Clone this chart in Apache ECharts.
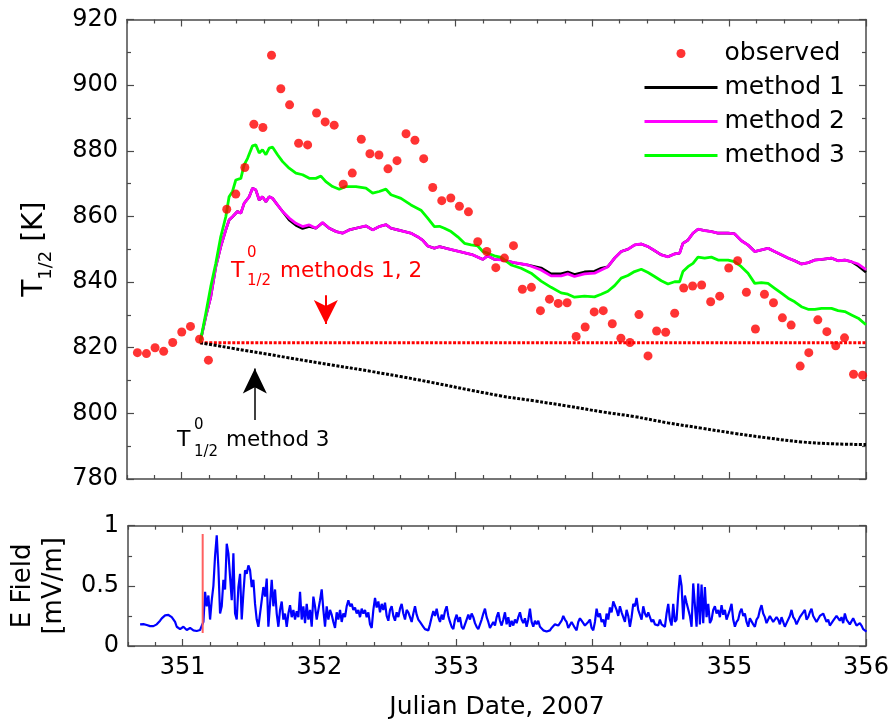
<!DOCTYPE html>
<html><head><meta charset="utf-8">
<script src="https://cdn.jsdelivr.net/npm/echarts@6/dist/echarts.min.js"></script>
<style>html,body{margin:0;padding:0;background:#fff}#c{width:893px;height:724px}</style>
</head><body><div id="c"></div><script>
// ---------- data ----------
const xMajorTicks = [351, 352, 353, 354, 355, 356];
const yTopTicks = [780, 800, 820, 840, 860, 880, 900, 920];
const yBotTicks = [0, 0.5, 1];

const obsDates = [350.676,350.742,350.805,350.868,350.934,351.000,351.064,351.130,351.195,
351.329,351.395,351.461,351.527,351.593,351.656,351.724,351.788,351.854,351.920,351.985,
352.048,352.114,352.180,352.246,352.312,352.375,352.441,352.507,352.573,352.639,352.704,
352.768,352.834,352.900,352.966,353.029,353.095,353.163,353.229,353.295,353.358,353.424,
353.489,353.555,353.621,353.687,353.751,353.816,353.882,353.948,354.014,354.080,354.146,
354.209,354.275,354.341,354.407,354.470,354.536,354.602,354.668,354.733,354.799,354.865,
354.931,354.997,355.062,355.126,355.192,355.258,355.324,355.389,355.453,355.519,355.582,
355.648,355.714,355.779,355.843,355.909,355.975];
const obsValues = [818.5,818.2,820.0,818.9,821.6,824.8,826.5,822.6,816.2,
862.2,866.8,874.9,888.1,887.1,909.1,898.9,894.0,882.3,881.8,891.5,
888.8,887.8,869.8,873.2,883.5,879.1,878.7,874.5,877.0,885.2,883.2,
877.6,868.8,864.8,865.6,863.1,861.4,852.3,849.3,844.4,847.3,851.1,
837.8,838.4,831.3,834.8,833.5,833.7,823.4,826.3,830.9,831.3,827.3,
822.9,821.6,830.1,817.5,825.1,824.7,830.5,838.2,838.8,839.1,834.0,
835.7,844.3,846.5,836.9,825.7,836.3,833.7,829.1,826.9,814.4,818.5,
828.5,824.9,820.6,823.0,811.9,811.6];

const m12Dates = [351.134,351.176,351.212,351.249,351.285,351.322,351.346,351.371,351.407,351.432,
351.456,351.493,351.517,351.541,351.566,351.590,351.615,351.639,351.664,351.700,351.737,351.785,
351.834,351.883,351.932,351.980,352.029,352.078,352.127,352.176,352.224,352.273,352.346,352.395,
352.443,352.492,352.529,352.578,352.627,352.675,352.724,352.760,352.797,352.846,352.883,352.931,
352.980,353.029,353.078,353.126,353.163,353.200,353.236,353.285,353.334,353.431,353.529,353.626,
353.699,353.772,353.821,353.870,353.943,354.016,354.065,354.114,354.163,354.211,354.260,354.309,
354.358,354.407,354.455,354.504,354.553,354.602,354.638,354.662,354.699,354.736,354.772,354.821,
354.870,354.919,354.992,355.040,355.089,355.138,355.187,355.235,355.284,355.333,355.382,355.431,
355.479,355.528,355.577,355.626,355.675,355.748,355.796,355.845,355.894,355.943,356.000];
const method2Values = [821.5,829.5,835.5,844.7,850.8,855.9,858.9,859.9,861.5,861.0,
864.0,866.0,868.6,868.1,865.0,866.0,864.5,866.0,865.5,863.5,861.5,859.5,
857.9,856.9,857.4,856.4,858.1,856.4,855.4,854.9,855.9,856.4,857.1,855.9,
856.9,857.5,856.4,855.9,855.4,854.9,853.8,852.8,851.0,850.3,850.8,850.3,
849.8,849.3,848.8,848.3,847.6,846.9,848.0,846.9,846.8,845.9,845.2,843.7,
841.9,841.9,842.5,841.7,842.5,842.7,843.7,844.7,847.3,849.3,850.0,851.3,
851.6,850.8,849.6,848.3,847.7,848.6,848.8,851.8,852.8,854.9,856.1,855.7,
855.4,854.9,854.9,854.7,852.6,851.3,849.3,849.8,850.3,849.3,848.3,847.3,
846.5,845.5,845.9,846.7,846.9,847.3,846.5,846.7,846.2,845.5,843.8];
const method1Values = [821.5,829.5,835.5,844.7,850.8,855.9,858.9,859.9,861.5,861.0,
864.0,866.0,868.6,868.1,865.0,866.0,864.5,866.0,865.5,863.5,861.5,858.9,
857.3,856.3,856.9,856.4,858.1,856.4,855.4,854.9,855.9,856.4,857.1,855.9,
856.9,857.5,856.4,855.9,855.4,854.9,853.8,852.8,851.0,850.3,850.8,850.3,
849.8,849.3,848.8,848.3,847.6,846.9,848.0,846.9,846.8,845.9,845.2,844.3,
842.5,842.5,843.1,842.3,843.1,843.3,844.2,844.7,847.3,849.3,850.0,851.3,
851.6,850.8,849.6,848.3,847.7,848.6,848.8,851.8,852.8,854.9,856.1,855.7,
855.4,854.9,854.9,854.7,852.6,851.3,849.3,849.8,850.3,849.3,848.3,847.3,
846.5,845.5,845.9,846.7,846.9,847.3,846.5,846.7,846.2,844.9,843.0];

const m3Dates = [351.134,351.176,351.212,351.249,351.285,351.322,351.346,351.371,351.395,351.432,
351.456,351.481,351.517,351.541,351.566,351.590,351.615,351.639,351.664,351.700,351.737,351.785,
351.834,351.883,351.932,351.980,352.017,352.053,352.102,352.151,352.200,352.273,352.346,352.395,
352.443,352.492,352.529,352.602,352.675,352.748,352.797,352.846,352.883,352.919,352.968,353.017,
353.066,353.114,353.163,353.200,353.236,353.285,353.334,353.407,353.480,353.553,353.626,353.699,
353.772,353.821,353.870,353.943,354.016,354.065,354.114,354.163,354.211,354.260,354.309,354.358,
354.407,354.455,354.504,354.553,354.602,354.638,354.662,354.699,354.736,354.772,354.821,354.870,
354.919,354.992,355.040,355.089,355.138,355.187,355.235,355.284,355.333,355.382,355.431,355.479,
355.528,355.577,355.626,355.675,355.748,355.796,355.845,355.894,355.943,356.000];
const method3Values = [821.5,830.5,838.6,845.7,853.8,859.9,866.0,867.6,871.1,871.6,
875.7,877.7,881.5,881.8,879.3,880.3,878.8,880.8,881.1,878.8,876.7,874.7,
873.2,872.7,871.6,871.6,872.3,870.6,869.1,868.3,869.1,869.1,868.6,867.1,
867.6,868.3,866.6,865.5,863.5,861.9,859.5,856.9,857.0,856.4,855.4,853.8,
851.8,851.3,851.0,849.3,848.8,848.0,847.5,845.2,844.2,842.7,840.3,838.4,
836.7,836.3,835.4,835.7,835.5,836.3,837.2,838.9,841.2,842.0,843.2,843.9,
842.9,841.7,840.4,839.4,840.1,840.1,843.2,844.7,845.7,847.6,847.3,847.6,
846.7,846.7,846.2,844.7,842.7,839.6,839.8,839.6,838.1,836.6,835.1,834.0,
832.5,831.7,831.7,832.0,832.0,831.3,831.0,830.0,829.0,827.0];

const t0m12Dates = [351.134, 356.0];
const t0m12Values = [821.5, 821.5];
const t0m3Dates = [351.134, 351.871, 352.600, 353.334, 353.578, 353.821, 354.065, 354.309, 354.553, 354.797, 355.040, 355.284, 355.528, 355.772, 356.0];
const t0m3Values = [821.5, 816.3, 811.2, 805.3, 803.8, 802.2, 800.5, 799.0, 797.1, 795.5, 793.9, 792.5, 791.3, 790.7, 790.5];

// E field, sampled on a regular time grid
const eStart = 350.688, eStep = 0.012192;
const eField = [
0.18,0.18,0.182,0.183,0.175,0.17,0.165,0.16,0.165,0.175,0.18,0.19,0.21,0.23,0.244,0.255,0.26,0.258,0.25,0.24,
0.23,0.2,0.16,0.145,0.14,0.15,0.16,0.145,0.133,0.14,0.15,0.147,0.13,0.127,0.125,0.128,0.133,0.14,
0.2,0.45,0.33,0.42,0.22,0.38,0.5,0.75,0.92,0.65,0.27,0.33,0.55,0.47,0.85,0.77,0.78,0.38,0.77,0.27,0.22,0.49,
0.60,0.22,0.44,0.63,0.60,0.67,0.63,0.49,0.55,0.35,0.22,0.16,0.27,0.38,0.49,0.41,0.56,0.16,0.35,0.55,
0.33,0.47,0.27,0.16,0.30,0.37,0.22,0.27,0.16,0.27,0.34,0.24,0.30,0.22,0.29,0.24,0.45,0.22,0.33,0.19,
0.35,0.22,0.30,0.16,0.41,0.33,0.22,
0.30,0.38,0.47,0.30,0.16,0.33,0.22,0.30,0.26,0.20,0.15,0.28,0.22,0.30,0.20,0.27,0.24,0.33,0.38,0.33,
0.35,0.30,0.32,0.27,0.30,0.24,0.31,0.27,0.30,0.24,0.28,0.18,0.15,0.30,0.40,0.32,0.37,0.28,0.35,0.30,
0.36,0.25,0.21,0.30,0.33,0.25,0.21,0.28,0.24,0.31,0.35,0.27,0.22,0.30,0.28,0.24,0.20,0.27,0.33,0.26,
0.22,0.20,0.19,0.16,0.14,0.13,0.13,0.18,0.24,0.29,0.25,0.31,0.24,0.20,0.26,0.22,0.29,0.33,0.25,0.20,
0.16,0.14,0.22,0.26,0.20,0.24,0.16,0.14,0.18,0.22,0.26,0.22,0.27,0.24,0.19,0.16,0.14,0.15,0.22,0.27,
0.31,0.24,0.20,0.15,0.14,0.20,0.17,0.24,0.28,0.21,0.17,
0.22,0.28,0.18,0.24,0.16,0.21,0.17,0.22,0.19,0.24,0.28,0.22,0.19,0.23,0.16,0.22,0.31,0.20,0.16,0.21,
0.18,0.21,0.16,0.15,0.13,0.14,0.12,0.13,0.13,0.15,0.16,0.18,0.19,0.17,0.16,0.21,0.25,0.22,0.20,0.15,
0.16,0.20,0.19,0.15,0.13,0.20,0.23,0.21,0.20,0.17,0.16,0.20,0.22,0.15,0.13,0.20,0.31,0.24,0.27,0.20,
0.22,0.16,0.27,0.22,0.32,0.28,0.37,0.38,0.30,0.25,0.33,0.28,0.27,0.20,0.30,0.25,0.16,0.24,0.35,0.33,
0.40,0.30,0.30,0.22,0.33,0.27,0.24,0.28,0.27,0.20,0.22,0.18,0.19,0.17,0.22,0.18,0.19,0.16,0.27,0.35,
0.22,0.17,0.35,0.20,0.22,0.43,0.59,0.50,0.22,0.42,0.36,
0.35,0.25,0.16,0.52,0.53,0.16,0.52,0.18,0.51,0.19,0.49,0.24,0.35,0.19,0.22,0.30,0.33,0.27,0.30,0.24,
0.34,0.26,0.30,0.22,0.22,0.30,0.35,0.22,0.16,0.20,0.22,0.28,0.31,0.25,0.27,0.20,0.16,0.23,0.24,0.18,
0.16,0.22,0.24,0.30,0.34,0.27,0.24,0.19,0.22,0.25,0.24,0.20,0.19,0.24,0.22,0.18,0.24,0.20,0.16,0.19,
0.19,0.25,0.30,0.24,0.22,0.18,0.19,0.24,0.24,0.28,0.30,0.22,0.24,0.28,0.31,0.25,0.24,0.20,0.19,0.25,
0.24,0.27,0.26,0.20,0.22,0.17,0.16,0.21,0.22,0.25,0.26,0.21,0.24,0.19,0.27,0.22,0.22,0.18,0.19,0.23,
0.20,0.17,0.16,0.19,0.17,0.14,0.13,0.12];
const onsetDates = [351.146, 351.146];
const onsetValues = [0.108, 0.93];

// ---------- build ----------
const zip = (xs, ys) => xs.map((x, i) => [x, ys[i]]);
const eData = eField.map((v, i) => [eStart + i * eStep, v]);
const xMinorTicks = [];
for (let k = 0; k <= 27; k++) { const t = +(350.6 + 0.2 * k).toFixed(1); if (!xMajorTicks.includes(t)) xMinorTicks.push(t); }

const AX = '#4a4a4a';
const FONT = 'DejaVu Sans';
const XMIN = 350.6, XMAX = 356;

function xAx(grid, pos, ticks, len, line, labels, extra) {
  return Object.assign({
    type: 'value', gridIndex: grid, position: pos, min: XMIN, max: XMAX,
    axisLine: { show: line, onZero: false, lineStyle: { color: AX, width: 1.5 } },
    axisTick: { show: true, inside: true, length: len, customValues: ticks, lineStyle: { color: AX, width: 1.2 } },
    axisLabel: labels ? { show: true, customValues: ticks, color: '#000', fontFamily: FONT, fontSize: 24, margin: 10 } : { show: false },
    splitLine: { show: false }, axisPointer: { show: false }
  }, extra || {});
}
function yAx(grid, pos, min, max, interval, labels, extra) {
  return Object.assign({
    type: 'value', gridIndex: grid, position: pos, min: min, max: max, interval: interval,
    axisLine: { show: true, onZero: false, lineStyle: { color: AX, width: 1.5 } },
    axisTick: { show: true, inside: true, length: 7, lineStyle: { color: AX, width: 1.2 } },
    minorTick: { show: true, splitNumber: 2, length: 4, lineStyle: { color: AX, width: 1.2 } },
    axisLabel: labels ? { show: true, color: '#000', fontFamily: FONT, fontSize: 24, margin: 9 } : { show: false },
    splitLine: { show: false }, minorSplitLine: { show: false }
  }, extra || {});
}

const ANN = '"DejaVu Sans"';
const option = {
  animation: false,
  backgroundColor: '#fff',
  grid: [
    { left: 127, right: 27, top: 19.5, height: 459.5 },
    { left: 127, right: 27, top: 525.7, height: 120.3 }
  ],
  xAxis: [
    xAx(0, 'bottom', xMajorTicks, 7, true, false),
    xAx(0, 'bottom', xMinorTicks, 4, false, false),
    xAx(0, 'top', xMajorTicks, 7, true, false),
    xAx(0, 'top', xMinorTicks, 4, false, false),
    xAx(1, 'bottom', xMajorTicks, 7, true, true, {
      name: 'Julian Date, 2007', nameLocation: 'middle', nameGap: 49,
      nameTextStyle: { color: '#000', fontFamily: FONT, fontSize: 25 }
    }),
    xAx(1, 'bottom', xMinorTicks, 4, false, false),
    xAx(1, 'top', xMajorTicks, 7, true, false),
    xAx(1, 'top', xMinorTicks, 4, false, false)
  ],
  yAxis: [
    yAx(0, 'left', yTopTicks[0], yTopTicks[yTopTicks.length - 1], 20, true, {
      name: 'T{s|1/2} [K]', nameLocation: 'middle', nameRotate: 90, nameGap: 72,
      nameTextStyle: { color: '#000', fontFamily: FONT, fontSize: 28,
        rich: { s: { fontFamily: FONT, fontSize: 18, color: '#000', padding: [22, 0, 0, 0] } } }
    }),
    yAx(0, 'right', yTopTicks[0], yTopTicks[yTopTicks.length - 1], 20, false),
    yAx(1, 'left', yBotTicks[0], yBotTicks[yBotTicks.length - 1], 0.5, true, {
      name: 'E Field\n[mV/m]', nameLocation: 'middle', nameRotate: 90, nameGap: 54,
      nameTextStyle: { color: '#000', fontFamily: FONT, fontSize: 26, lineHeight: 31 }
    }),
    yAx(1, 'right', yBotTicks[0], yBotTicks[yBotTicks.length - 1], 0.5, false)
  ],
  legend: {
    orient: 'vertical', left: 643, top: 41, padding: 0, itemWidth: 73, itemHeight: 9, itemGap: 9,
    selectedMode: false,
    textStyle: { color: '#000', fontFamily: FONT, fontSize: 25, lineHeight: 25, padding: [0, 0, 0, 2] },
    data: [
      { name: 'observed' },
      { name: 'method 1', itemStyle: { opacity: 0 }, lineStyle: { width: 3 } },
      { name: 'method 2', itemStyle: { opacity: 0 }, lineStyle: { width: 3 } },
      { name: 'method 3', itemStyle: { opacity: 0 }, lineStyle: { width: 3 } }
    ]
  },
  series: [
    { name: 'T0 methods 1, 2', type: 'line', xAxisIndex: 0, yAxisIndex: 0, data: zip(t0m12Dates, t0m12Values),
      showSymbol: false, symbol: 'none', lineStyle: { color: '#ff0000', width: 3, type: [3, 1.6] }, z: 2,
      markLine: { silent: true, symbol: ['none', 'arrow'], symbolSize: [18, 24], label: { show: false },
        lineStyle: { color: '#ff0000', width: 2, type: 'solid' },
        data: [[{ coord: [352.053, 836.0] }, { coord: [352.053, 827.2] }]] } },
    { name: 'T0 method 3', type: 'line', xAxisIndex: 0, yAxisIndex: 0, data: zip(t0m3Dates, t0m3Values),
      smooth: 0.4, showSymbol: false, symbol: 'none', lineStyle: { color: '#000', width: 3, type: [3, 1.6] }, z: 2,
      markLine: { silent: true, symbol: ['none', 'arrow'], symbolSize: [18, 25], label: { show: false },
        lineStyle: { color: '#000', width: 1.5, type: 'solid' },
        data: [[{ coord: [351.534, 798.0] }, { coord: [351.534, 813.7] }]] } },
    { name: 'method 1', type: 'line', xAxisIndex: 0, yAxisIndex: 0, data: zip(m12Dates, method1Values),
      showSymbol: false, symbol: 'none', color: '#000', lineStyle: { color: '#000', width: 2.6 }, z: 3 },
    { name: 'method 2', type: 'line', xAxisIndex: 0, yAxisIndex: 0, data: zip(m12Dates, method2Values),
      showSymbol: false, symbol: 'none', color: '#ff00ff', lineStyle: { color: '#ff00ff', width: 2.8 }, z: 4 },
    { name: 'method 3', type: 'line', xAxisIndex: 0, yAxisIndex: 0, data: zip(m3Dates, method3Values),
      showSymbol: false, symbol: 'none', color: '#00ff00', lineStyle: { color: '#00ff00', width: 2.8 }, z: 5 },
    { name: 'observed', type: 'scatter', xAxisIndex: 0, yAxisIndex: 0, data: zip(obsDates, obsValues),
      symbol: 'circle', symbolSize: 9, itemStyle: { color: '#ff0000' }, z: 6 },
    { name: 'E field', type: 'line', xAxisIndex: 4, yAxisIndex: 2, data: eData,
      showSymbol: false, symbol: 'none', lineStyle: { color: '#0000ff', width: 2.2 }, z: 3 },
    { name: 'onset', type: 'line', xAxisIndex: 4, yAxisIndex: 2, data: zip(onsetDates, onsetValues),
      showSymbol: false, symbol: 'none', lineStyle: { color: '#ff6060', width: 2 }, z: 4 }
  ],
  graphic: [
    { type: 'text', left: 231, top: 260, style: { text: 'T', fill: '#ff0000', font: '22px ' + ANN } },
    { type: 'text', left: 247, top: 246, style: { text: '0', fill: '#ff0000', font: '15px ' + ANN } },
    { type: 'text', left: 247, top: 274, style: { text: '1/2', fill: '#ff0000', font: '15px ' + ANN } },
    { type: 'text', left: 280, top: 260, style: { text: 'methods 1, 2', fill: '#ff0000', font: '21.5px ' + ANN } },
    { type: 'text', left: 177, top: 429, style: { text: 'T', fill: '#000', font: '22px ' + ANN } },
    { type: 'text', left: 194, top: 418, style: { text: '0', fill: '#000', font: '15px ' + ANN } },
    { type: 'text', left: 194, top: 445, style: { text: '1/2', fill: '#000', font: '15px ' + ANN } },
    { type: 'text', left: 226, top: 429, style: { text: 'method 3', fill: '#000', font: '21.5px ' + ANN } }
  ]
};
const chart = echarts.init(document.getElementById('c'), null, { renderer: 'canvas' });
chart.setOption(option);
</script></body></html>
